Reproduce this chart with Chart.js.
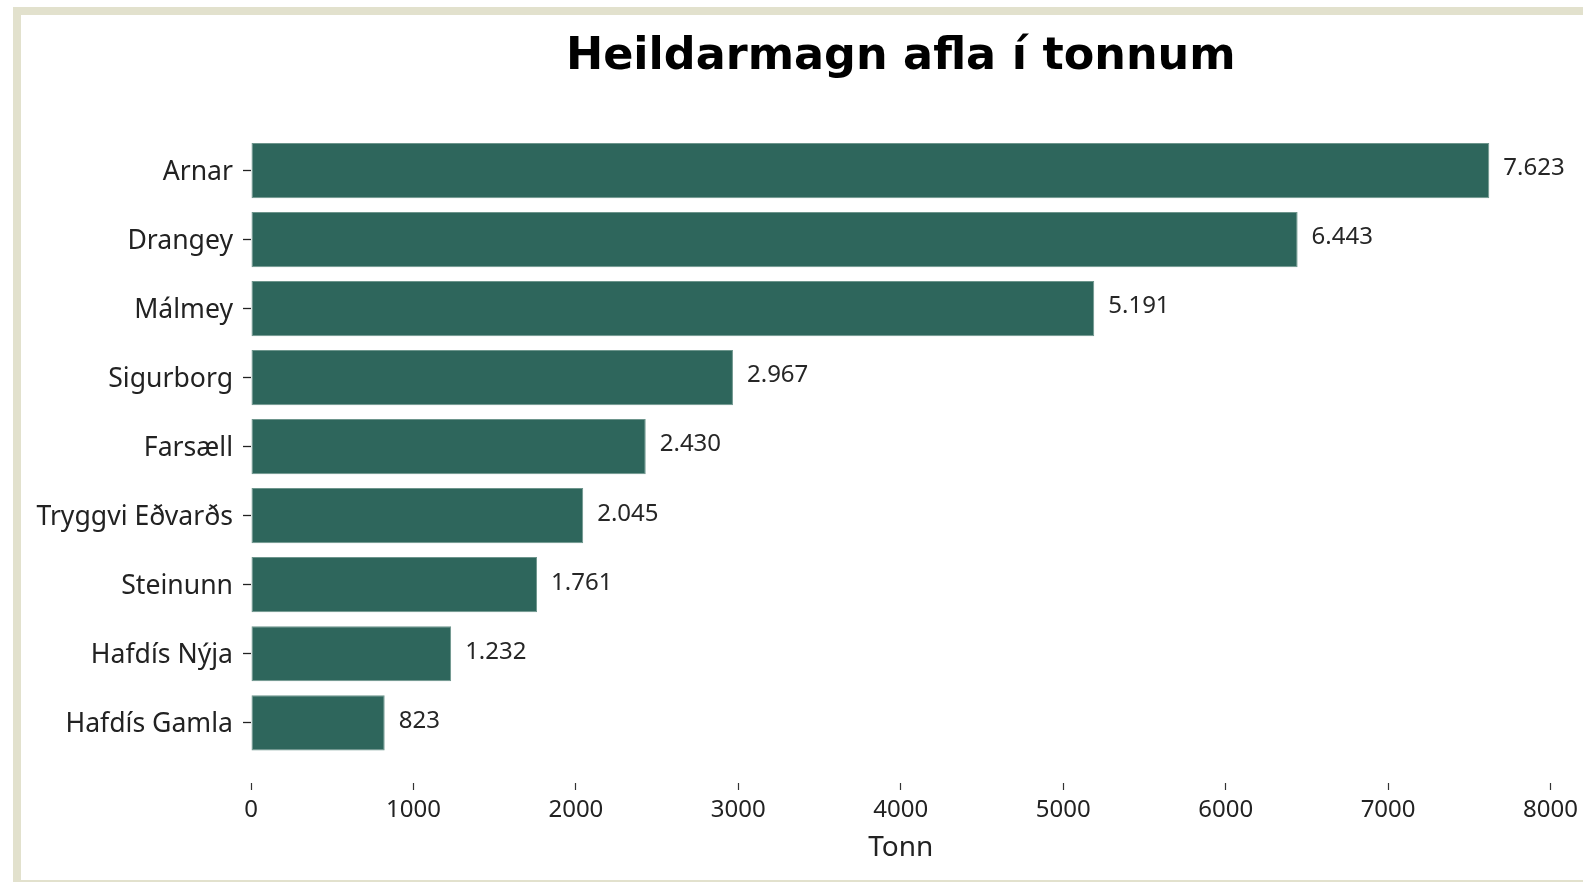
<!DOCTYPE html>
<html>
<head>
<meta charset="utf-8">
<script src="https://cdn.jsdelivr.net/npm/chart.js@4"></script>
<style>
  html, body { margin: 0; padding: 0; background: #ffffff; overflow: hidden; }
  #frame { position: absolute; left: 13px; top: 7px; width: 1640px; height: 865px; border: 8px solid #e2e1cd; background: #ffffff; }
  #c { position: absolute; left: 0; top: 0; }
</style>
</head>
<body>
<div id="frame"></div>
<canvas id="c" width="1583" height="882"></canvas>
<script>
const categories = ['Arnar', 'Drangey', 'Málmey', 'Sigurborg', 'Farsæll', 'Tryggvi Eðvarðs', 'Steinunn', 'Hafdís Nýja', 'Hafdís Gamla'];
const tonnValues = [7623, 6443, 5191, 2967, 2430, 2045, 1761, 1232, 823];
const xTickValues = [0, 1000, 2000, 3000, 4000, 5000, 6000, 7000, 8000];
const chartTitle = 'Heildarmagn afla í tonnum';
const xAxisTitle = 'Tonn';

function fmtIs(v) {
  return String(v).replace(/\B(?=(\d{3})+(?!\d))/g, '.');
}

const valueLabels = {
  id: 'valueLabels',
  afterDatasetsDraw(chart) {
    const ctx = chart.ctx;
    const meta = chart.getDatasetMeta(0);
    ctx.save();
    ctx.font = '24px "Noto Sans"';
    ctx.fillStyle = '#262626';
    ctx.textAlign = 'left';
    ctx.textBaseline = 'middle';
    meta.data.forEach((bar, i) => {
      ctx.fillText(fmtIs(tonnValues[i]), bar.x + 14, bar.y - 2);
    });
    ctx.restore();
  }
};

Chart.defaults.font.family = '"Noto Sans", sans-serif';
Chart.defaults.color = '#222222';

new Chart(document.getElementById('c'), {
  type: 'bar',
  data: {
    labels: categories,
    datasets: [{
      data: tonnValues,
      backgroundColor: '#2e665c',
      borderColor: '#6d958c',
      borderWidth: 1,
      borderSkipped: false,
      barPercentage: 0.8,
      categoryPercentage: 1.0
    }]
  },
  options: {
    indexAxis: 'y',
    responsive: false,
    animation: false,
    devicePixelRatio: 1,
    layout: { padding: { left: 0, right: 32, top: 0, bottom: 0 } },
    plugins: {
      legend: { display: false },
      tooltip: { enabled: false },
      title: {
        display: true,
        fullSize: false,
        text: chartTitle,
        color: '#000000',
        font: { family: '"DejaVu Sans"', weight: 'bold', size: 44.5 },
        padding: { top: 30.3, bottom: 52.3 }
      }
    },
    scales: {
      x: {
        type: 'linear',
        min: 0,
        max: 8000,
        afterBuildTicks(scale) { scale.ticks = xTickValues.map(v => ({ value: v })); },
        afterFit(scale) { scale.height = 124.7; },
        border: { display: false },
        grid: {
          display: true,
          drawOnChartArea: false,
          drawTicks: true,
          tickLength: 33,
          tickColor: '#333333',
          tickWidth: 1.2,
          tickBorderDash: [0, 26, 7, 200]
        },
        ticks: {
          padding: 5,
          font: { size: 24 },
          color: '#222222',
          maxRotation: 0,
          callback: (v) => String(v)
        },
        title: {
          display: true,
          text: xAxisTitle,
          font: { size: 28 },
          color: '#222222',
          padding: { top: 0, bottom: 17.2 }
        }
      },
      y: {
        type: 'category',
        afterFit(scale) { scale.width = 251; },
        border: { display: false },
        grid: {
          display: true,
          offset: false,
          drawOnChartArea: false,
          drawTicks: true,
          tickLength: 8,
          tickColor: '#222222',
          tickWidth: 1.3
        },
        ticks: {
          padding: 10,
          labelOffset: 2,
          font: { size: 26.6 },
          color: '#222222'
        }
      }
    }
  },
  plugins: [valueLabels]
});
</script>
</body>
</html>
